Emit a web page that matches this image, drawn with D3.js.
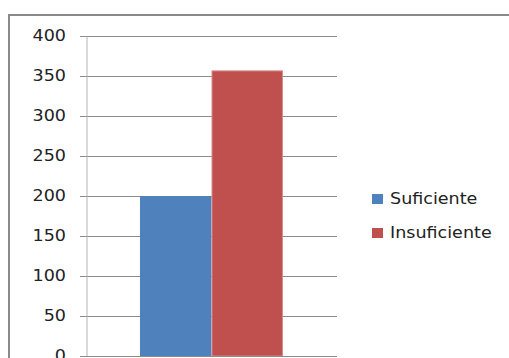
<!DOCTYPE html>
<html>
<head>
<meta charset="utf-8">
<script src="https://cdn.jsdelivr.net/npm/d3@7"></script>
<style>
  html, body { margin: 0; padding: 0; background: #fff; }
  svg { display: block; }
  text { font-family: "DejaVu Sans", Verdana, sans-serif; fill: #222; }
</style>
</head>
<body>
<div id="chart"></div>
<script>
// Survey result counts
const categories = ["Resultado"];
const seriesNames = ["Suficiente", "Insuficiente"];
const seriesValues = [200, 357];
const seriesColors = ["#4F81BD", "#C0504D"];
const seriesEdges = ["#4F81BD", "#D98A88"];
const yTicks = [0, 50, 100, 150, 200, 250, 300, 350, 400];

const W = 509, H = 358;
const FONT = 15, STRETCH = 1.17;

const svg = d3.select("#chart").append("svg").attr("width", W).attr("height", H);

// outer chart frame
svg.append("rect")
  .attr("x", 9).attr("y", 15)
  .attr("width", W + 10).attr("height", H + 10)
  .attr("fill", "#fff").attr("stroke", "#8a8a8a").attr("stroke-width", 2);

const plot = { left: 86, right: 337, top: 36, bottom: 356 };

const y = d3.scaleLinear().domain([0, 400]).range([plot.bottom, plot.top]);
const xCat = d3.scaleBand().domain(categories).range([plot.left, plot.right]).paddingInner(0).paddingOuter(0.378);
const xSeries = d3.scaleBand().domain(seriesNames).range([0, xCat.bandwidth()]).padding(0);

// horizontal gridlines
svg.append("g")
  .selectAll("line")
  .data(yTicks.filter(d => d > 0))
  .join("line")
  .attr("x1", plot.left - 6).attr("x2", plot.right)
  .attr("y1", d => Math.round(y(d)) + 0.5).attr("y2", d => Math.round(y(d)) + 0.5)
  .attr("stroke", "#8c8c8c").attr("stroke-width", 1);

// value axis (line + ticks), labels drawn wide below
const yAxis = d3.axisLeft(y).tickValues(yTicks).tickSize(6).tickFormat("");
const gy = svg.append("g")
  .attr("transform", `translate(${plot.left + 0.5},0)`)
  .call(yAxis);
gy.select(".domain").attr("stroke", "#b4b4b4");
gy.selectAll(".tick line").attr("stroke", "#8c8c8c");

svg.append("g")
  .selectAll("text")
  .data(yTicks)
  .join("text")
  .attr("transform", d => `translate(66,${y(d)}) scale(${STRETCH},1)`)
  .attr("text-anchor", "end")
  .attr("dy", "0.36em")
  .attr("font-size", FONT)
  .text(d3.format("d"));

// bars
const gBars = svg.append("g");
categories.forEach(cat => {
  gBars.selectAll("rect.bar")
    .data(seriesNames.map((s, i) => ({ s, v: seriesValues[i], c: seriesColors[i], e: seriesEdges[i] })))
    .join("rect")
    .attr("class", "bar")
    .attr("x", d => xCat(cat) + xSeries(d.s) + 0.5)
    .attr("width", xSeries.bandwidth() - 1)
    .attr("y", d => y(d.v) + 0.5)
    .attr("height", d => y(0) - y(d.v) - 0.5)
    .attr("fill", d => d.c)
    .attr("stroke", d => d.e)
    .attr("stroke-width", 1);
});

// category axis line
svg.append("line")
  .attr("x1", plot.left - 6).attr("x2", plot.right)
  .attr("y1", plot.bottom + 0.5).attr("y2", plot.bottom + 0.5)
  .attr("stroke", "#8c8c8c");

// legend
const legend = svg.append("g").attr("transform", "translate(372,194)");
const items = legend.selectAll("g")
  .data(seriesNames.map((s, i) => ({ s, c: seriesColors[i] })))
  .join("g")
  .attr("transform", (d, i) => `translate(0,${i * 34})`);
items.append("rect").attr("width", 11).attr("height", 10).attr("fill", d => d.c);
items.append("text")
  .attr("transform", `translate(18,10) scale(${STRETCH},1)`)
  .attr("font-size", FONT)
  .text(d => d.s);
</script>
</body>
</html>
